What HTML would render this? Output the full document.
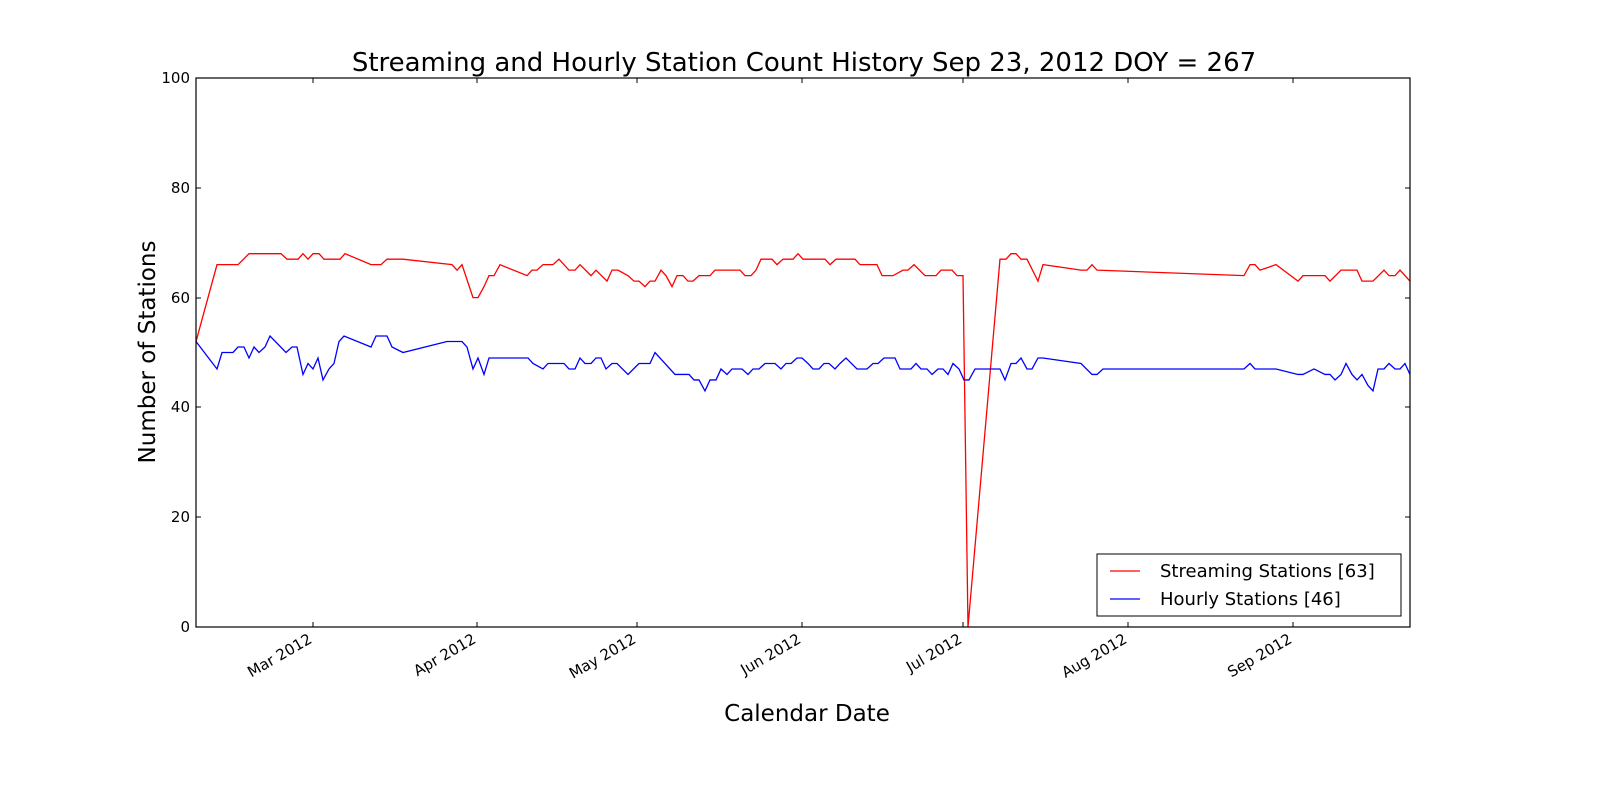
<!DOCTYPE html>
<html><head><style>
html,body{margin:0;padding:0;background:#fff;}
svg{display:block;font-family:"DejaVu Sans","Liberation Sans",sans-serif;}
</style></head><body>
<svg width="1600" height="800" viewBox="0 0 1600 800" xmlns="http://www.w3.org/2000/svg">
<rect width="1600" height="800" fill="#fff"/>
<text x="804" y="71" font-size="26" text-anchor="middle">Streaming and Hourly Station Count History Sep 23, 2012 DOY = 267</text>
<g transform="translate(0,627) scale(1,-5.49)" fill="none" stroke-width="1.3">
<polyline vector-effect="non-scaling-stroke" stroke="#ff0000" points="196,52 217,66 238,66 249,68 281,68 287,67 298,67 303,68 308,67 313,68 319,68 324,67 340,67 345,68 371,66 381,66 387,67 403,67 452,66 457,65 462,66 473,60 478,60 484,62 489,64 494,64 500,66 527,64 532,65 537,65 543,66 553,66 559,67 569,65 575,65 580,66 591,64 596,65 607,63 612,65 618,65 628,64 634,63 639,63 645,62 650,63 655,63 661,65 666,64 672,62 677,64 683,64 688,63 693,63 699,64 710,64 715,65 740,65 745,64 751,64 756,65 761,67 772,67 777,66 783,67 793,67 798,68 803,67 825,67 830,66 836,67 855,67 860,66 877,66 882,64 893,64 903,65 908,65 914,66 925,64 936,64 941,65 952,65 957,64 963,64 968,0 1000,67 1006,67 1011,68 1016,68 1021,67 1027,67 1038,63 1043,66 1081,65 1087,65 1092,66 1097,65 1244,64 1250,66 1255,66 1260,65 1276,66 1298,63 1303,64 1325,64 1330,63 1341,65 1357,65 1362,63 1373,63 1384,65 1389,64 1395,64 1400,65 1410,63"/>
<polyline vector-effect="non-scaling-stroke" stroke="#0000ff" points="196,52 217,47 222,50 233,50 238,51 244,51 249,49 254,51 259,50 265,51 270,53 286,50 292,51 297,51 303,46 308,48 313,47 318,49 323,45 329,47 334,48 339,52 344,53 371,51 376,53 387,53 392,51 403,50 447,52 462,52 467,51 473,47 478,49 484,46 489,49 528,49 533,48 543,47 548,48 564,48 569,47 575,47 580,49 585,48 591,48 596,49 601,49 606,47 612,48 617,48 628,46 639,48 650,48 655,50 675,46 689,46 694,45 699,45 705,43 710,45 716,45 721,47 727,46 732,47 742,47 748,46 753,47 759,47 765,48 775,48 781,47 786,48 791,48 797,49 802,49 808,48 813,47 819,47 824,48 829,48 835,47 840,48 846,49 857,47 867,47 873,48 878,48 884,49 895,49 900,47 911,47 916,48 921,47 927,47 932,46 938,47 943,47 948,46 953,48 959,47 964,45 969,45 975,47 1000,47 1005,45 1011,48 1016,48 1021,49 1027,47 1032,47 1038,49 1043,49 1081,48 1092,46 1097,46 1103,47 1244,47 1250,48 1255,47 1276,47 1298,46 1303,46 1314,47 1325,46 1330,46 1335,45 1341,46 1346,48 1352,46 1357,45 1362,46 1368,44 1373,43 1378,47 1384,47 1389,48 1395,47 1400,47 1405,48 1410,46"/>
</g>
<rect x="196" y="78" width="1214" height="549" fill="none" stroke="#000" stroke-width="1.2"/>
<g stroke="#000" stroke-width="1">
<path d="M196,517h5M196,407h5M196,298h5M196,188h5M1410,517h-5M1410,407h-5M1410,298h-5M1410,188h-5"/>
<path d="M313,627v-5M477,627v-5M637,627v-5M802,627v-5M963,627v-5M1128,627v-5M1293,627v-5M313,78v5M477,78v5M637,78v5M802,78v5M963,78v5M1128,78v5M1293,78v5"/>
</g>
<g font-size="15" text-anchor="end">
<text x="190" y="632">0</text><text x="190" y="522">20</text><text x="190" y="412">40</text><text x="190" y="303">60</text><text x="190" y="193">80</text><text x="190" y="83">100</text>
</g>
<g font-size="15" text-anchor="end">
<text transform="translate(313,642) rotate(-30)">Mar 2012</text>
<text transform="translate(477,642) rotate(-30)">Apr 2012</text>
<text transform="translate(637,642) rotate(-30)">May 2012</text>
<text transform="translate(802,642) rotate(-30)">Jun 2012</text>
<text transform="translate(963,642) rotate(-30)">Jul 2012</text>
<text transform="translate(1128,642) rotate(-30)">Aug 2012</text>
<text transform="translate(1293,642) rotate(-30)">Sep 2012</text>
</g>
<text x="807" y="721" font-size="23" text-anchor="middle">Calendar Date</text>
<text transform="translate(155,352) rotate(-90)" font-size="23" text-anchor="middle">Number of Stations</text>
<rect x="1097" y="554" width="304" height="62" fill="#fff" stroke="#000" stroke-width="1"/>
<line x1="1110" y1="571" x2="1140" y2="571" stroke="#ff0000" stroke-width="1.3"/>
<line x1="1110" y1="599" x2="1140" y2="599" stroke="#0000ff" stroke-width="1.3"/>
<text x="1160" y="577" font-size="18">Streaming Stations [63]</text>
<text x="1160" y="605" font-size="18">Hourly Stations [46]</text>
</svg>
</body></html>
